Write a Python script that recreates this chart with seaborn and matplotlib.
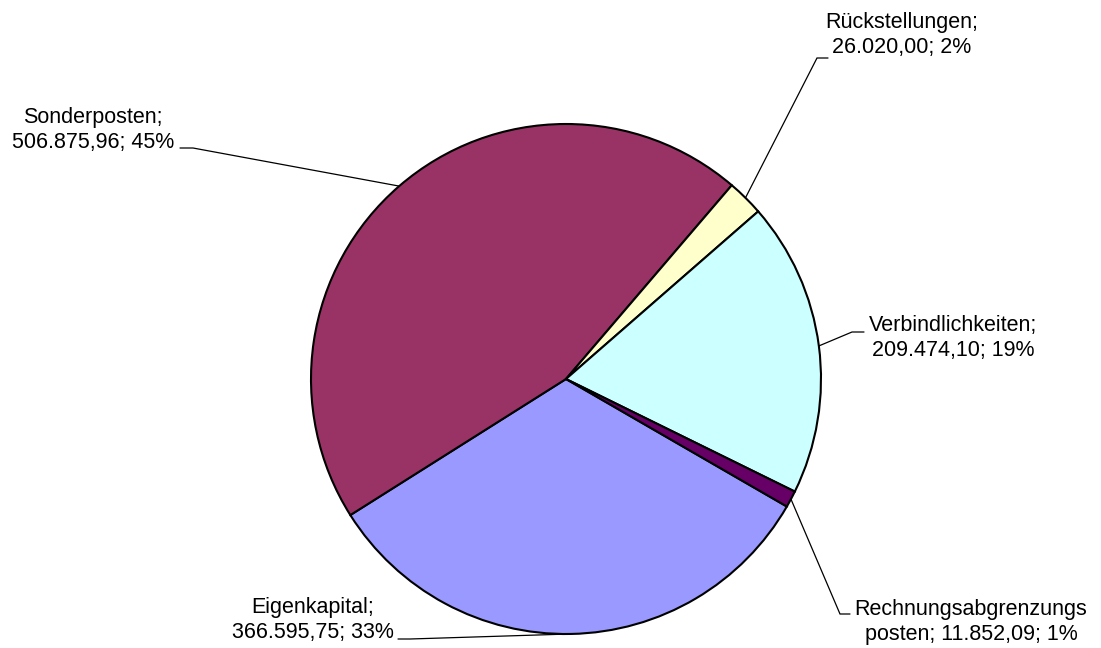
import numpy as np
import matplotlib.pyplot as plt
import seaborn as sns

names = ["Eigenkapital", "Sonderposten", "Rückstellungen",
         "Verbindlichkeiten", "Rechnungsabgrenzungs\nposten"]
values = [366595.75, 506875.96, 26020.00, 209474.10, 11852.09]
colors = ["#9999FF", "#993366", "#FFFFCC", "#CCFFFF", "#660066"]

# label placement (last-line baseline centre), leader start and elbow, in pixels from top-left
label_pos = [(313, 638), (93, 148), (902, 53), (953, 356), (971, 640)]
line_end = [(398, 639), (180, 148), (828, 58), (864, 332), (850, 614)]
elbow = [(410, 639), (193, 148), (817, 58), (852, 332), (840, 614)]

W, H = 1101, 648
center = (566, H - 379)
radius = 255


def de_num(v):
    s = f"{v:,.2f}"
    return s.replace(",", "X").replace(".", ",").replace("X", ".")


sns.set_style("white")
plt.rcParams["font.family"] = ["Liberation Sans", "DejaVu Sans"]

fig = plt.figure(figsize=(W / 100, H / 100), dpi=100)
ax = fig.add_axes([0, 0, 1, 1])

wedges, _ = ax.pie(
    values,
    colors=colors,
    startangle=-30,
    counterclock=False,
    center=center,
    radius=radius,
    wedgeprops=dict(edgecolor="black", linewidth=1.5),
    frame=True,
)

total = sum(values)
for i, w in enumerate(wedges):
    mid = np.deg2rad((w.theta1 + w.theta2) / 2)
    px = center[0] + radius * np.cos(mid)
    py = center[1] + radius * np.sin(mid)
    pct = round(values[i] / total * 100)
    sep = " " if "\n" in names[i] else "\n"
    txt = f"{names[i]};{sep}{de_num(values[i])}; {pct}%"
    lx, ly = label_pos[i]
    ax.text(lx, H - ly, txt, ha="center", va="baseline", fontsize=15.5,
            color="black", linespacing=1.25)
    ex, ey = elbow[i]
    sx, sy = line_end[i]
    ax.plot([sx, ex, px], [H - sy, H - ey, py], color="black", lw=0.9,
            solid_joinstyle="miter")

ax.set_xlim(0, W)
ax.set_ylim(0, H)
ax.set_aspect("equal")
ax.axis("off")

fig.savefig("out.png", dpi=100, facecolor="white")
